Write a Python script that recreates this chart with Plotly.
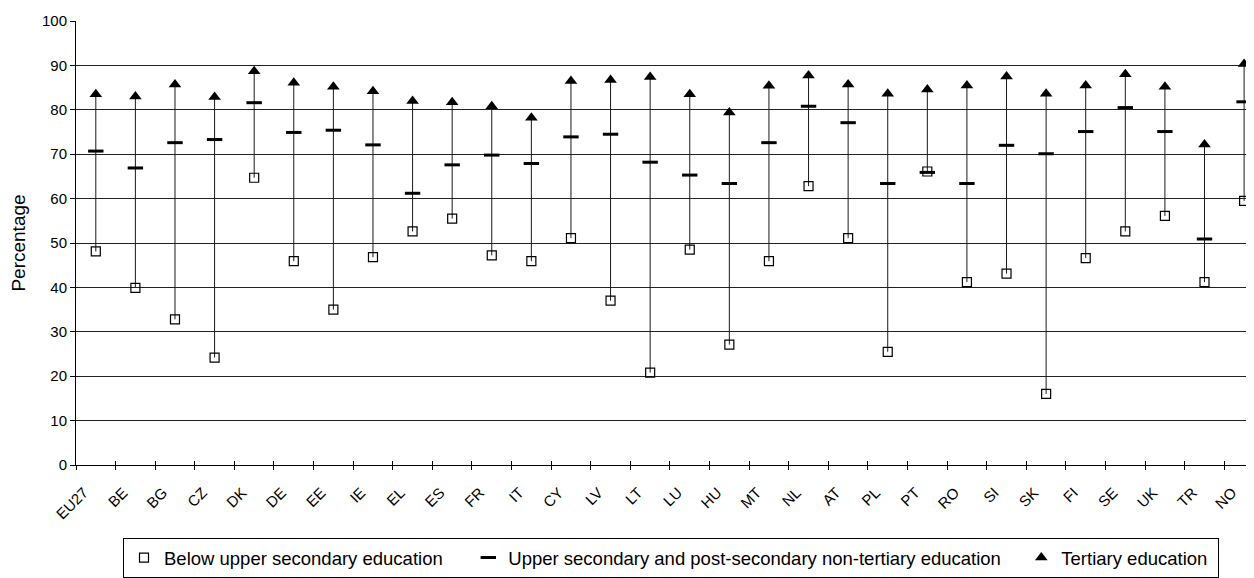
import plotly.graph_objects as go

countries = ["EU27", "BE", "BG", "CZ", "DK", "DE", "EE", "IE", "EL", "ES", "FR", "IT", "CY", "LV", "LT",
             "LU", "HU", "MT", "NL", "AT", "PL", "PT", "RO", "SI", "SK", "FI", "SE", "UK", "TR", "NO"]
below_upper_secondary = [48.1, 39.9, 32.8, 24.2, 64.7, 45.9, 35.0, 46.8, 52.6, 55.5, 47.2, 45.9, 51.1, 37.0, 20.8,
                         48.5, 27.1, 45.9, 62.8, 51.1, 25.5, 66.1, 41.2, 43.1, 16.0, 46.6, 52.6, 56.1, 41.2, 59.5]
upper_secondary = [70.7, 66.9, 72.6, 73.3, 81.6, 74.9, 75.4, 72.1, 61.2, 67.6, 69.8, 67.9, 73.9, 74.5, 68.2,
                   65.3, 63.4, 72.6, 80.8, 77.1, 63.4, 65.9, 63.4, 72.0, 70.1, 75.1, 80.5, 75.1, 50.9, 81.8]
tertiary = [83.5, 83.0, 85.7, 82.9, 88.7, 86.1, 85.2, 84.2, 82.0, 81.7, 80.8, 78.2, 86.5, 86.7, 87.4,
            83.5, 79.4, 85.4, 87.7, 85.7, 83.6, 84.6, 85.5, 87.5, 83.6, 85.5, 88.0, 85.2, 72.2, 90.3]

y_ticks = [0, 10, 20, 30, 40, 50, 60, 70, 80, 90, 100]
names = ["Below upper secondary education",
         "Upper secondary and post-secondary non-tertiary education",
         "Tertiary education"]
NB = "\u00a0"
legend_names = [names[0] + NB * 4, names[1] + NB * 3, names[2] + NB * 1]

FONT = "Liberation Sans, Arial, sans-serif"

# high-low lines built from the data
line_x, line_y = [], []
for c, a, b, t in zip(countries, below_upper_secondary, upper_secondary, tertiary):
    line_x += [c, c, None]
    line_y += [min(a, b, t), max(a, b, t), None]

fig = go.Figure()
fig.add_trace(go.Scatter(x=line_x, y=line_y, mode="lines", line=dict(color="#1a1a1a", width=1),
                         showlegend=False, hoverinfo="skip"))
fig.add_trace(go.Scatter(x=countries, y=below_upper_secondary, mode="markers", name=legend_names[0],
                         marker=dict(symbol="square-open", size=9, color="black",
                                     line=dict(color="black", width=1.2))))
fig.add_trace(go.Scatter(x=countries, y=upper_secondary, mode="markers", name=legend_names[1],
                         marker=dict(symbol="line-ew", size=11, color="black",
                                     line=dict(color="black", width=3))))
fig.add_trace(go.Scatter(x=countries, y=tertiary, mode="markers", name=legend_names[2],
                         marker=dict(symbol="triangle-up", size=11, color="black",
                                     line=dict(color="black", width=0))))
# invisible trace to carry the overlaid axis for inside ticks
fig.add_trace(go.Scatter(x=countries, y=[None] * len(countries), xaxis="x2", mode="markers",
                         showlegend=False, hoverinfo="skip"))

fig.update_layout(
    width=1246, height=570,
    margin=dict(l=68, r=0, t=13, b=108),
    paper_bgcolor="white", plot_bgcolor="white",
    font=dict(family=FONT, color="black"),
    showlegend=True,
    legend=dict(orientation="h", xanchor="left", x=0.0399, yanchor="top", y=-0.165,
                bordercolor="black", borderwidth=1, font=dict(size=18.5, family=FONT),
                itemwidth=30, bgcolor="white"),
    xaxis=dict(type="category", categoryorder="array", categoryarray=countries,
               range=[-0.5, 29.25], showline=True, linecolor="black", linewidth=1,
               ticks="outside", ticklen=4, tickcolor="black", tickson="boundaries",
               tickangle=-45, tickfont=dict(size=15, family=FONT), showgrid=False,
               zeroline=False, ticklabelstandoff=12, ticklabelshift=-12),
    xaxis2=dict(type="category", categoryorder="array", categoryarray=countries,
                overlaying="x", matches="x", anchor="y", showline=False, ticks="inside",
                ticklen=4, tickcolor="black", tickson="boundaries", showticklabels=False,
                showgrid=False, zeroline=False),
    yaxis=dict(range=[0, 100], tickvals=y_ticks, showline=True, linecolor="black", linewidth=1,
               ticks="outside", ticklen=5, tickcolor="black", showgrid=True, gridcolor="#222222",
               gridwidth=1, zeroline=False, tickfont=dict(size=15, family=FONT),
               title=dict(text="Percentage", font=dict(size=19, family=FONT), standoff=12)),
)

fig.write_html("out.html")
